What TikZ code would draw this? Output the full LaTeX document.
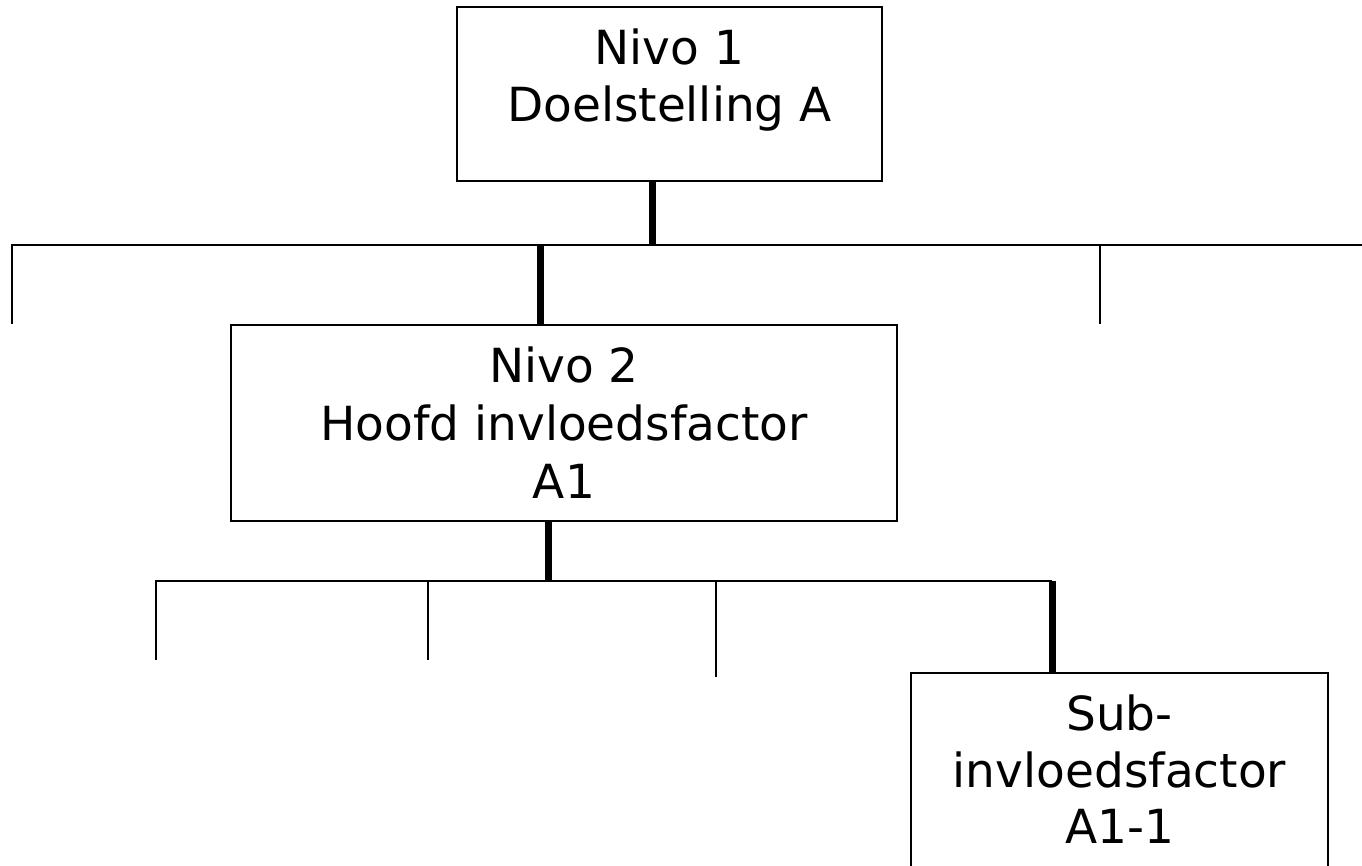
\documentclass[tikz,border=0pt]{standalone}
\usepackage{fontspec}
\setmainfont{DejaVu Sans}
\begin{document}
\begin{tikzpicture}[x=1pt,y=-1pt,
  box/.style={draw, line width=1.8pt, rectangle, inner sep=0pt},
  thinline/.style={line width=2pt, line join=miter},
  thickline/.style={line width=7pt},
  lbl/.style={font=\fontsize{47}{57}\selectfont, inner sep=0pt, anchor=base}]
\useasboundingbox (0,0) rectangle (1362,866);
% boxes
\node[box, minimum width=425pt, minimum height=174pt] (n1) at (669.5,94) {};
\node[box, minimum width=666pt, minimum height=196pt] (n2) at (564,423) {};
\node[box, minimum width=417pt, minimum height=260pt] (n3) at (1119.5,803) {};
% texts
\node[lbl] (n1a) at (669.5,65) {Nivo 1};
\node[lbl] (n1b) at (669.5,122) {Doelstelling A};
\node[lbl] (n2a) at (564,382) {Nivo 2};
\node[lbl] (n2b) at (564,440) {Hoofd invloedsfactor};
\node[lbl] (n2c) at (564,498) {A1};
\node[lbl] (n3a) at (1119.5,730) {Sub-};
\node[lbl] (n3b) at (1119.5,787) {invloedsfactor};
\node[lbl] (n3c) at (1119.5,843) {A1-1};
% level 1 bus
\coordinate (h1l) at (12,245);
\coordinate (h1r) at (1362,245);
\coordinate (l1b) at (12,324);
\coordinate (r1t) at (1100,245);
\coordinate (r1b) at (1100,324);
\coordinate (j1) at (652,245);
\coordinate (j2) at (540,245);
\draw[thinline] (l1b) -- (h1l) -- (h1r);
\draw[thinline] (r1t) -- (r1b);
\draw[thickline] (n1.south -| j1) -- (j1);
\draw[thickline] (j2) -- (n2.north -| j2);
% level 2 bus
\coordinate (j3) at (548,581);
\coordinate (h2l) at (156,581);
\coordinate (h2r) at (1052,581);
\coordinate (v1b) at (156,660);
\coordinate (v2t) at (428,581);
\coordinate (v2b) at (428,660);
\coordinate (v3t) at (716,581);
\coordinate (v3b) at (716,677);
\draw[thinline] (v1b) -- (h2l) -- (h2r);
\draw[thinline] (v2t) -- (v2b);
\draw[thinline] (v3t) -- (v3b);
\draw[thickline] (n2.south -| j3) -- (j3);
\draw[thickline] (h2r) -- (n3.north -| h2r);
\end{tikzpicture}
\end{document}
